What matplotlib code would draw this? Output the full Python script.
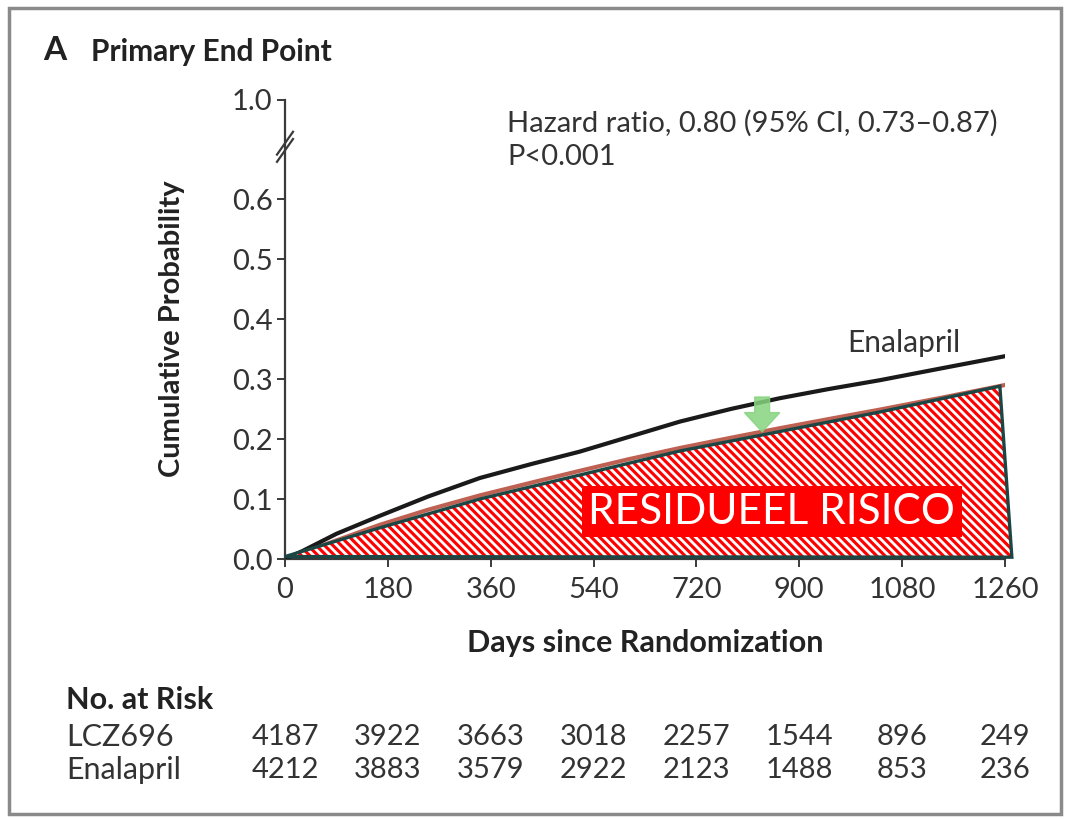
import numpy as np
import matplotlib
matplotlib.use("Agg")
import matplotlib.pyplot as plt
from matplotlib.patches import Polygon, Rectangle, FancyArrow
from matplotlib import transforms

plt.rcParams['font.family'] = ['Lato', 'DejaVu Sans']
plt.rcParams['hatch.linewidth'] = 2.0

# data
days_ticks = [0, 180, 360, 540, 720, 900, 1080, 1260]
y_ticks = [0.0, 0.1, 0.2, 0.3, 0.4, 0.5, 0.6]
y_labels = ["0.0", "0.1", "0.2", "0.3", "0.4", "0.5", "0.6"]

enal_days = [0, 30, 90, 166, 250, 341, 430, 516, 600, 691, 780, 866, 950, 1041, 1150, 1260]
enal_prob = [0, 0.013, 0.042, 0.072, 0.104, 0.135, 0.158, 0.179, 0.203, 0.229, 0.25, 0.268, 0.283, 0.298, 0.318, 0.338]

lcz_days = [0, 90, 166, 250, 341, 430, 516, 600, 691, 780, 866, 950, 1041, 1150, 1260]
lcz_prob = [0, 0.031, 0.057, 0.082, 0.106, 0.127, 0.147, 0.166, 0.185, 0.202, 0.218, 0.233, 0.249, 0.269, 0.29]

# hand drawn "residual risk" shape
risk_days = [0, 166, 341, 691, 1041, 1251, 1272]
risk_prob = [0.004, 0.052, 0.100, 0.180, 0.245, 0.288, 0.003]

lcz_risk = [4187, 3922, 3663, 3018, 2257, 1544, 896, 249]
enal_risk = [4212, 3883, 3579, 2922, 2123, 1488, 853, 236]

W, H = 1069, 819
fig = plt.figure(figsize=(W / 100, H / 100), dpi=100)

def fx(px):
    return px / W

def fy(py):
    return 1 - py / H

top_val = 0.765  # where "1.0" sits after the axis break
ax = fig.add_axes([fx(285), fy(559), fx(1005) - fx(285), fy(100) - fy(559)])
ax.set_xlim(0, 1260)
ax.set_ylim(0, top_val)

grey = '#3a3a3a'
txt = '#333333'
for s in ['top', 'right']:
    ax.spines[s].set_visible(False)
for s in ['left', 'bottom']:
    ax.spines[s].set_color(grey)
    ax.spines[s].set_linewidth(1.6)

ax.set_xticks(days_ticks)
ax.set_xticklabels([str(d) for d in days_ticks])
ax.set_yticks(y_ticks + [top_val])
ax.set_yticklabels(y_labels + ["1.0"])
ax.tick_params(direction='out', length=6, width=1.4, color=grey,
               labelsize=21, labelcolor=txt)
ax.tick_params(axis='x', pad=7)
ax.tick_params(axis='y', pad=3)

# axis break marks
brk = 0.682
for off in [0.0, 0.012]:
    ax.plot([-14, 14], [brk - 0.02 + off, brk + 0.018 + off], color=grey, lw=1.6,
            clip_on=False, zorder=5)

ax.plot(lcz_days, lcz_prob, color='#b8503f', lw=3, alpha=0.9, zorder=2)
ax.plot(enal_days, enal_prob, color='#1a1a1a', lw=3, zorder=3)

pts = np.column_stack([risk_days, risk_prob])
ax.add_patch(Polygon(pts, closed=True, facecolor='#ff0000', edgecolor='white',
                     hatch='\\\\\\\\', lw=0, clip_on=False, zorder=4))
ax.add_patch(Polygon(pts, closed=True, fill=False, edgecolor='#1c4644',
                     lw=2.4, clip_on=False, zorder=5))

ax.text(852, 0.079, "RESIDUEEL RISICO", color='white', fontsize=30.5,
        ha='center', va='center', zorder=6,
        bbox=dict(boxstyle='square,pad=0.15', facecolor='#ff0000', edgecolor='none'))

ax.add_patch(FancyArrow(835, 0.27, 0, -0.026, width=26, head_width=62,
                        head_length=0.032, length_includes_head=False,
                        facecolor='#86d47f', edgecolor='#86d47f', alpha=0.85,
                        zorder=6))

ax.text((847 - 285) * 1.75, (559 - 343) / 600, "Enalapril",
        fontsize=21.5, color=txt, ha='left', va='center')

fig.text(fx(507), fy(123), "Hazard ratio, 0.80 (95% CI, 0.73\u20130.87)",
         fontsize=21, color=txt, va='center')
fig.text(fx(507), fy(157), "P<0.001", fontsize=21, color=txt, va='center')

fig.text(fx(43), fy(50), "A", fontsize=24, fontweight='bold', color='#222222', va='center')
fig.text(fx(91), fy(52), "Primary End Point", fontsize=21.5, fontweight='bold',
         color='#222222', va='center')

fig.text(fx(172), fy(329), "Cumulative Probability", fontsize=21, fontweight='bold',
         color='#222222', rotation=90, ha='center', va='center')
fig.text(fx(645), fy(643), "Days since Randomization", fontsize=22, fontweight='bold',
         color='#222222', ha='center', va='center')

fig.text(fx(66), fy(700), "No. at Risk", fontsize=22, fontweight='bold',
         color='#222222', va='center')
fig.text(fx(66), fy(737), "LCZ696", fontsize=22, color=txt, va='center')
fig.text(fx(66), fy(770), "Enalapril", fontsize=22, color=txt, va='center')

tr = transforms.blended_transform_factory(ax.transData, fig.transFigure)
for d, a, b in zip(days_ticks, lcz_risk, enal_risk):
    ax.text(d, fy(737), str(a), transform=tr, ha='center', va='center',
            fontsize=21, color=txt)
    ax.text(d, fy(770), str(b), transform=tr, ha='center', va='center',
            fontsize=21, color=txt)

fig.patches.append(Rectangle((fx(9), fy(814)), fx(1061) - fx(9), fy(8) - fy(814),
                             transform=fig.transFigure, fill=False,
                             edgecolor='#8a8a8a', lw=2.5))

fig.savefig("out.png", dpi=100)
